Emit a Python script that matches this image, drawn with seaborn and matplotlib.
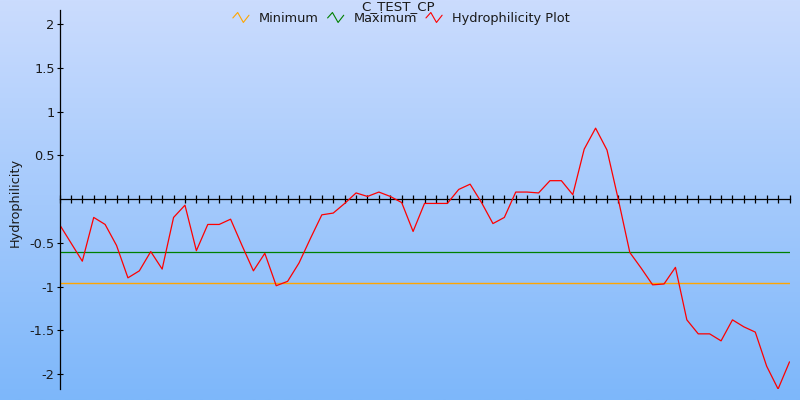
import numpy as np
import pandas as pd
import matplotlib
matplotlib.use("Agg")
import matplotlib.pyplot as plt
import seaborn as sns
from matplotlib.legend_handler import HandlerBase
from matplotlib.lines import Line2D

# ---- data ----
title = "C_TEST_CP"
y_label = "Hydrophilicity"
series_names = ["Minimum", "Maximum", "Hydrophilicity Plot"]
series_colors = ["#FFA500", "#008000", "#FF0000"]
hydrophilicity = [
    -0.29, -0.50, -0.71, -0.21, -0.29, -0.53, -0.90, -0.82, -0.60, -0.80,
    -0.21, -0.07, -0.59, -0.29, -0.29, -0.23, -0.53, -0.82, -0.62, -0.99,
    -0.94, -0.73, -0.45, -0.18, -0.16, -0.05, 0.07, 0.03, 0.08, 0.03,
    -0.04, -0.37, -0.05, -0.05, -0.05, 0.11, 0.17, -0.04, -0.28, -0.21,
    0.08, 0.08, 0.07, 0.21, 0.21, 0.05, 0.57, 0.81, 0.56, -0.01,
    -0.61, -0.79, -0.98, -0.97, -0.78, -1.38, -1.54, -1.54, -1.62, -1.38,
    -1.46, -1.52, -1.91, -2.17, -1.86,
]
minimum_value = -0.96
maximum_value = -0.60
y_ticks = [-2, -1.5, -1, -0.5, 0.5, 1, 1.5, 2]
y_tick_labels = ["-2", "-1.5", "-1", "-0.5", "0.5", "1", "1.5", "2"]

positions = list(range(len(hydrophilicity)))
df = pd.DataFrame({"pos": positions, "value": hydrophilicity})
ref_x = [positions[0], positions[-1]]

sns.set_style("white")
plt.rcParams["font.family"] = ["DejaVu Sans"]

fig = plt.figure(figsize=(8, 4), dpi=100)

# gradient background
bg = fig.add_axes([0, 0, 1, 1], zorder=-10)
grad = np.linspace(0, 1, 256)[:, None, None]
top_c = np.array([203, 220, 254]) / 255.0
bot_c = np.array([125, 183, 250]) / 255.0
img = top_c + (bot_c - top_c) * grad
bg.imshow(img, aspect="auto", extent=[0, 1, 0, 1])
bg.set_axis_off()

ax = fig.add_axes([59.5 / 800, 11 / 400, (789.5 - 59.5) / 800, 379 / 400])
ax.patch.set_alpha(0)

sns.lineplot(x=ref_x, y=[minimum_value] * 2, ax=ax, color=series_colors[0],
             linewidth=1.0)
sns.lineplot(x=ref_x, y=[maximum_value] * 2, ax=ax, color=series_colors[1],
             linewidth=0.9)
sns.lineplot(data=df, x="pos", y="value", ax=ax, color=series_colors[2],
             linewidth=0.9)

ax.set_xlim(positions[0], positions[-1])
ax.set_ylim(-2.17, 2.16)
ax.set_xlabel("")
ax.set_ylabel("")

for s in ["top", "right"]:
    ax.spines[s].set_visible(False)
ax.spines["bottom"].set_position(("data", 0))
ax.spines["bottom"].set_color("black")
ax.spines["left"].set_color("black")
ax.spines["bottom"].set_linewidth(0.9)
ax.spines["left"].set_linewidth(0.9)
ax.spines["bottom"].set_zorder(1)

ax.set_xticks(positions)
ax.set_xticklabels([])
ax.tick_params(axis="x", which="major", bottom=True, direction="inout", length=6,
               width=0.9, color="black")
ax.set_yticks(y_ticks)
ax.set_yticklabels(y_tick_labels)
ax.tick_params(axis="y", which="major", left=True, direction="inout", length=5,
               width=0.8, color="black", labelsize=9.3, labelcolor="#1a1a1a", pad=1)

fig.text(15 / 800, 0.495, y_label, rotation=90, ha="center", va="center",
         fontsize=9.3, color="#1a1a1a")
fig.text(0.4975, 1 - 0.5 / 400, title, ha="center", va="top",
         fontsize=9.6, color="#1a1a1a")


class ZigZag(HandlerBase):
    def create_artists(self, legend, orig_handle, xdescent, ydescent,
                       width, height, fontsize, trans):
        xs = np.array([0.0, 0.3, 0.65, 1.0]) * width - xdescent
        ys = np.array([0.45, 1.05, -0.05, 0.75]) * height - ydescent
        ln = Line2D(xs, ys, color=orig_handle.get_color(), lw=0.8)
        ln.set_transform(trans)
        return [ln]


handles = [Line2D([], [], color=c) for c in series_colors]
fig.legend(handles, series_names, loc="center", bbox_to_anchor=(0.5015, 1 - 18.5 / 400),
           ncol=3, frameon=False, fontsize=9.3, handlelength=1.25,
           handletextpad=0.75, columnspacing=0.7, labelcolor="#1a1a1a",
           handler_map={Line2D: ZigZag()})

fig.savefig("out.png", dpi=100)
